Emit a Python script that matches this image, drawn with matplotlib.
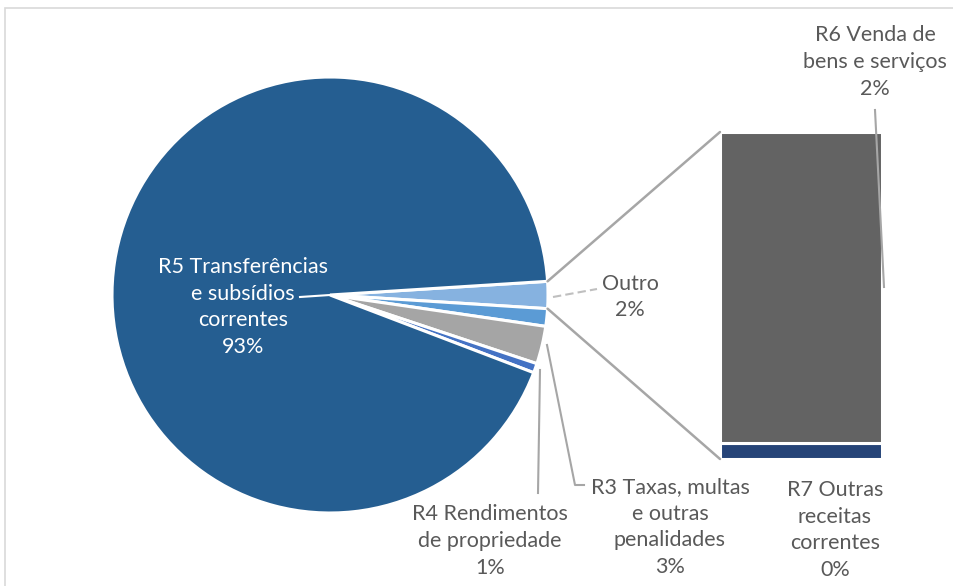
import matplotlib
matplotlib.use("Agg")
import matplotlib.pyplot as plt
from matplotlib.patches import ConnectionPatch, Rectangle
from matplotlib.lines import Line2D
import numpy as np

plt.rcParams['font.family'] = ['Lato', 'DejaVu Sans']

# ---- data ----
pie_names = ["Outro", "", "R3 Taxas, multas\ne outras\npenalidades",
             "R4 Rendimentos\nde propriedade", "R5 Transferências\ne subsídios\ncorrentes"]
pie_values = [2.0, 1.3, 2.8, 0.7, 93.2]
pie_colors = ["#86B2E0", "#5B9BD5", "#A5A5A5", "#4472C4", "#255E91"]

bar_names = ["R7 Outras\nreceitas\ncorrentes", "R6 Venda de\nbens e serviços"]
bar_values = [0.1, 1.9]
bar_colors = ["#264478", "#636363"]

TXT = "#595959"
LINE = "#A6A6A6"
W, H = 954, 586

fig = plt.figure(figsize=(W / 100, H / 100), dpi=100)
ax = fig.add_axes([0, 0, 1, 1])

def Y(py):
    return H - py

# chart border
ax.add_patch(Rectangle((5, Y(8) - 700), 1000, 700, fill=False, ec="#D9D9D9", lw=1.2))

cx, cy, r = 330, Y(295), 218
outro_deg = pie_values[0] / sum(pie_values) * 360
start = outro_deg / 2
wedges, _ = ax.pie(pie_values, colors=pie_colors, startangle=start, counterclock=False,
                   center=(cx, cy), radius=r, frame=True,
                   wedgeprops=dict(edgecolor="white", linewidth=2.2))
ax.set_xlim(0, W)
ax.set_ylim(0, H)
ax.set_aspect('equal')
ax.axis('off')

def pct(v, tot):
    return f"{round(v / tot * 100):.0f}%"

tot = sum(pie_values)
fs = 15.5
ls = 1.42

# R5 label (inside)
ax.text(243, Y(307), pie_names[4] + "\n" + pct(pie_values[4], tot), color="white",
        ha="center", va="center", fontsize=fs, linespacing=ls)
ax.plot([cx, 300], [cy, Y(297)], color="white", lw=1.5)

# Outro label
ax.text(630, Y(297), pie_names[0] + "\n" + pct(pie_values[0], tot), color=TXT,
        ha="center", va="center", fontsize=fs, linespacing=ls)
ax.plot([553, 597], [Y(297), Y(289)], color="#BFBFBF", lw=1.5, ls=(0, (4, 2)))

# R3 label
ax.text(670, Y(527), pie_names[2] + "\n" + pct(pie_values[2], tot), color=TXT,
        ha="center", va="center", fontsize=fs, linespacing=ls)
ax.plot([547, 575, 584], [Y(345), Y(485), Y(485)], color=LINE, lw=1.5)

# R4 label
ax.text(490, Y(541), pie_names[3] + "\n" + pct(pie_values[3], tot), color=TXT,
        ha="center", va="center", fontsize=fs, linespacing=ls)
ax.plot([540, 538], [Y(370), Y(493)], color=LINE, lw=1.5)

# ---- bar of pie ----
bx0, bx1, by0, by1 = 720, 882, 132, 459
bax = fig.add_axes([bx0 / W, (H - by1) / H, (bx1 - bx0) / W, (by1 - by0) / H])
btot = sum(bar_values)
bottom = 0
for v, c in zip(bar_values, bar_colors):
    bax.bar(0, v, bottom=bottom, width=1, color=c, edgecolor="white", linewidth=2.2)
    bottom += v
bax.set_xlim(-0.5, 0.5)
bax.set_ylim(0, btot)
bax.axis('off')

# connectors from pie "Outro" slice edges to bar corners
a_top = np.deg2rad(start)
a_bot = np.deg2rad(-start)
for ang, yb in [(a_top, btot), (a_bot, 0)]:
    p = (cx + r * np.cos(ang), cy + r * np.sin(ang))
    con = ConnectionPatch(xyA=p, coordsA=ax.transData, xyB=(-0.5, yb), coordsB=bax.transData,
                          color=LINE, lw=1.8)
    fig.add_artist(con)

# bar labels
ax.text(875, Y(62), bar_names[1] + "\n" + pct(bar_values[1], tot), color=TXT,
        ha="center", va="center", fontsize=fs, linespacing=ls)
fig.add_artist(Line2D([875, 884], [Y(110), Y(287)], color=LINE, lw=1.5,
                      transform=ax.transData, zorder=10))

ax.text(835, Y(530), bar_names[0] + "\n" + pct(bar_values[0], tot), color=TXT,
        ha="center", va="center", fontsize=fs, linespacing=ls)

fig.savefig("out.png", dpi=100)
